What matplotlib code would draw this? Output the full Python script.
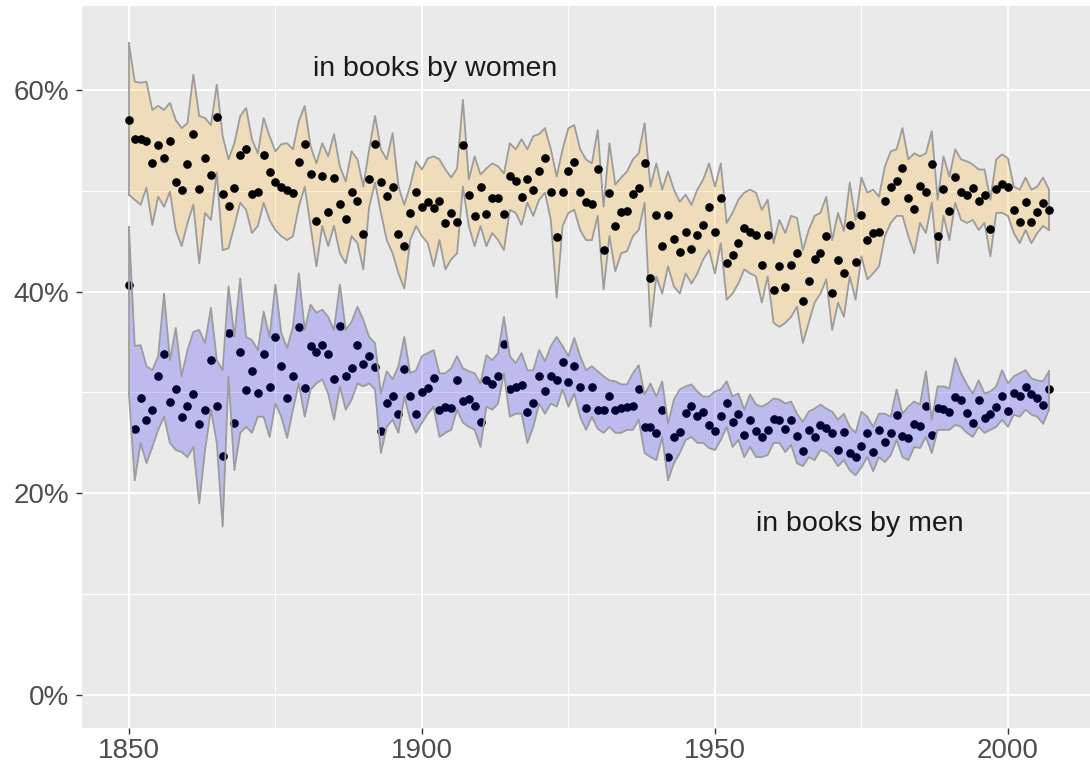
import numpy as np
import matplotlib
matplotlib.use("Agg")
import matplotlib.pyplot as plt

years = list(range(1850, 2008))

women = [57.0, 55.1, 55.1, 54.9, 52.7, 54.5, 53.2, 54.9, 50.9, 50.1,
         52.6, 55.6, 50.2, 53.2, 51.6, 57.3, 49.7, 48.5, 50.3, 53.5,
         54.1, 49.7, 49.9, 53.5, 51.8, 50.9, 50.4, 50.1, 49.8, 52.8,
         54.6, 51.7, 47.0, 51.5, 47.9, 51.3, 48.7, 47.2, 49.9, 49.0,
         45.7, 51.2, 54.6, 50.9, 49.5, 50.4, 45.7, 44.5, 47.8, 49.9,
         48.4, 48.9, 48.3, 49.0, 46.8, 47.8, 46.9, 54.5, 49.6, 47.5,
         50.4, 47.7, 49.3, 49.3, 47.7, 51.5, 51.0, 49.4, 51.2, 50.1,
         51.9, 53.2, 49.9, 45.4, 49.9, 51.9, 52.8, 49.9, 48.9, 48.7,
         52.1, 44.1, 49.8, 46.5, 47.9, 48.0, 49.7, 50.3, 52.7, 41.3,
         47.6, 44.5, 47.6, 45.2, 43.9, 45.9, 44.2, 45.6, 46.6, 48.4,
         45.9, 49.3, 42.8, 43.6, 44.8, 46.3, 45.9, 45.6, 42.6, 45.6,
         40.2, 42.5, 40.5, 42.6, 43.8, 39.1, 41.0, 43.2, 43.8, 45.5,
         39.9, 43.1, 41.8, 46.6, 42.9, 47.6, 45.1, 45.8, 45.9, 49.0,
         50.4, 51.0, 52.2, 49.3, 48.2, 50.5, 49.9, 52.6, 45.5, 50.2,
         48.0, 51.4, 49.9, 49.6, 50.3, 49.0, 49.6, 46.2, 50.2, 50.7,
         50.4, 48.1, 46.9, 48.9, 46.9, 47.9, 48.8, 48.1]

women_hi = [64.6, 60.8, 60.7, 60.8, 58.0, 58.4, 58.0, 58.7, 57.0, 56.2,
            56.7, 61.5, 57.4, 57.2, 56.5, 60.5, 55.4, 53.1, 54.7, 57.4,
            58.2, 55.1, 53.7, 57.2, 55.4, 53.9, 54.6, 54.7, 54.1, 56.9,
            58.4, 54.4, 52.7, 54.7, 53.4, 55.6, 52.4, 50.9, 53.9, 53.1,
            50.4, 54.1, 57.4, 54.1, 53.1, 55.7, 50.4, 48.6, 50.5, 52.9,
            52.1, 53.2, 53.4, 53.1, 52.1, 51.3, 52.2, 59.0, 51.1, 53.4,
            51.6, 52.2, 52.7, 52.4, 51.7, 54.7, 54.1, 55.1, 54.1, 55.4,
            55.6, 56.2, 54.1, 51.4, 54.1, 56.2, 56.5, 54.1, 53.1, 52.7,
            56.0, 48.4, 54.7, 50.6, 51.3, 51.9, 53.1, 53.7, 56.7, 50.4,
            52.7, 50.1, 51.9, 50.1, 48.9, 49.6, 48.6, 50.1, 51.1, 52.7,
            50.4, 52.7, 46.8, 47.8, 49.1, 49.8, 50.1, 49.8, 48.1, 49.1,
            44.8, 47.1, 45.8, 47.5, 47.3, 44.1, 46.1, 47.5, 47.8, 49.4,
            45.1, 47.8, 46.0, 50.8, 47.1, 51.3, 49.8, 50.1, 49.4, 52.4,
            53.9, 54.1, 56.2, 53.1, 53.7, 53.4, 53.7, 55.9, 49.1, 53.4,
            51.4, 54.1, 53.1, 52.9, 52.6, 52.1, 52.1, 49.1, 53.1, 53.6,
            53.2, 50.4, 50.1, 51.3, 50.1, 50.4, 51.3, 50.1]

women_lo = [49.6, 49.1, 48.6, 50.3, 46.6, 49.4, 48.4, 49.9, 46.1, 44.5,
            46.8, 48.6, 42.8, 47.8, 47.1, 51.8, 44.1, 44.3, 46.5, 48.8,
            48.1, 45.8, 46.5, 48.8, 47.1, 46.1, 45.5, 45.1, 45.5, 48.4,
            50.4, 46.5, 42.5, 46.5, 44.5, 46.5, 43.8, 42.8, 45.5, 44.8,
            42.2, 48.4, 50.8, 47.8, 45.1, 43.8, 41.8, 40.3, 45.1, 46.5,
            45.5, 44.8, 42.5, 45.1, 42.2, 43.2, 43.8, 50.4, 46.5, 44.5,
            46.5, 44.5, 45.8, 45.1, 44.1, 48.1, 47.8, 46.6, 48.8, 47.5,
            49.1, 49.8, 47.1, 39.4, 46.5, 47.8, 48.1, 46.1, 45.1, 45.1,
            47.5, 40.2, 45.5, 42.0, 43.8, 44.0, 45.5, 46.1, 48.8, 36.5,
            41.5, 39.8, 42.5, 40.5, 39.8, 41.8, 40.8, 41.8, 43.2, 44.1,
            41.8, 44.8, 39.2, 39.8, 40.8, 42.2, 41.8, 41.5, 38.9, 41.5,
            36.9, 36.5, 36.9, 37.5, 38.5, 34.9, 36.9, 38.9, 39.8, 41.2,
            36.2, 38.9, 37.5, 41.5, 39.2, 43.5, 41.2, 41.8, 42.5, 45.5,
            46.8, 47.5, 47.5, 45.5, 43.8, 46.8, 45.8, 48.8, 42.8, 47.5,
            45.1, 48.8, 47.1, 46.8, 47.1, 46.1, 46.8, 43.5, 47.8, 47.8,
            47.5, 45.8, 44.8, 46.1, 44.8, 45.8, 46.5, 46.1]

men = [40.7, 26.4, 29.5, 27.3, 28.3, 31.6, 33.8, 29.1, 30.3, 27.6,
       28.7, 29.8, 26.9, 28.3, 33.2, 28.7, 23.7, 35.9, 27.0, 34.0,
       30.2, 32.1, 29.9, 33.8, 30.5, 35.5, 32.6, 29.5, 31.6, 36.5,
       30.4, 34.6, 34.0, 34.7, 33.8, 31.3, 36.6, 31.6, 32.4, 34.7,
       32.8, 33.6, 32.5, 26.2, 29.0, 29.7, 27.9, 32.3, 29.7, 27.9,
       30.0, 30.4, 31.4, 28.3, 28.6, 28.5, 31.2, 29.2, 29.4, 28.7,
       27.1, 31.2, 30.8, 31.6, 34.8, 30.3, 30.5, 30.7, 28.1, 29.0,
       31.6, 30.1, 31.6, 31.2, 33.0, 31.0, 32.6, 30.5, 28.5, 30.5,
       28.3, 28.3, 29.7, 28.3, 28.5, 28.6, 28.7, 30.3, 26.6, 26.6,
       26.0, 28.3, 23.6, 25.6, 26.1, 28.0, 28.7, 27.7, 28.1, 26.8,
       26.2, 27.7, 29.0, 27.1, 27.9, 25.8, 27.3, 26.2, 25.6, 26.3,
       27.4, 27.3, 26.4, 27.3, 25.7, 24.2, 26.3, 25.6, 26.8, 26.5,
       26.0, 24.3, 26.1, 24.0, 23.6, 24.7, 26.0, 24.1, 26.3, 25.1,
       26.0, 27.8, 25.7, 25.5, 26.9, 26.7, 28.7, 25.8, 28.5, 28.4,
       28.1, 29.6, 29.3, 28.0, 27.0, 29.3, 27.5, 27.9, 28.6, 29.7,
       28.2, 29.9, 29.7, 30.5, 29.8, 29.5, 28.8, 30.3]

men_hi = [46.4, 34.6, 34.7, 32.6, 32.2, 33.6, 39.8, 33.2, 36.4, 31.6,
          34.2, 36.0, 36.2, 34.9, 38.4, 33.2, 32.2, 40.5, 35.5, 41.3,
          35.5, 35.2, 34.2, 38.0, 35.5, 40.7, 35.9, 34.4, 36.5, 41.8,
          36.2, 38.7, 37.9, 38.2, 37.5, 36.2, 40.7, 36.2, 37.0, 38.5,
          37.2, 35.5, 34.9, 29.9, 32.1, 31.3, 32.6, 35.5, 31.9, 32.2,
          33.6, 33.9, 34.2, 31.9, 31.9, 32.4, 33.6, 32.4, 32.1, 31.9,
          30.9, 33.7, 33.2, 33.9, 37.5, 33.6, 32.9, 33.9, 32.2, 32.2,
          34.2, 33.1, 34.6, 35.5, 34.6, 33.6, 35.4, 33.6, 32.2, 32.6,
          32.1, 31.6, 31.2, 31.1, 30.8, 30.8, 31.9, 32.7, 29.8, 30.9,
          29.6, 31.1, 26.9, 29.3, 30.3, 30.6, 30.8, 30.1, 29.6, 29.6,
          30.1, 30.3, 31.1, 29.6, 29.9, 28.3, 29.8, 28.8, 28.6, 28.9,
          29.4, 29.3, 28.9, 29.1, 27.9, 27.1, 28.1, 28.4, 28.8, 28.4,
          28.1, 27.3, 27.9, 26.6, 26.0, 28.1, 27.6, 26.6, 27.9, 27.9,
          27.6, 30.3, 27.9, 28.6, 29.1, 28.8, 32.1, 27.3, 30.6, 30.6,
          30.4, 33.4, 31.9, 30.8, 29.9, 31.2, 29.9, 30.1, 30.6, 32.2,
          30.9, 31.6, 31.9, 32.2, 31.4, 31.2, 31.1, 32.1]

men_lo = [29.9, 21.3, 25.0, 23.0, 24.6, 26.3, 27.6, 25.0, 24.3, 24.1,
          23.6, 24.6, 19.0, 24.3, 28.3, 25.0, 16.7, 31.6, 22.3, 26.0,
          26.6, 26.0, 27.6, 27.6, 25.6, 28.9, 27.6, 25.5, 28.3, 30.9,
          27.6, 30.3, 30.9, 31.3, 29.9, 27.3, 30.6, 28.3, 29.3, 30.9,
          30.6, 30.9, 30.3, 24.0, 26.6, 27.3, 26.0, 29.6, 27.3, 26.0,
          27.0, 27.9, 28.6, 25.6, 26.0, 26.3, 28.3, 27.0, 26.6, 26.3,
          24.6, 28.6, 28.3, 28.9, 31.9, 27.6, 27.9, 27.9, 25.0, 26.6,
          28.9, 27.9, 28.9, 28.6, 30.3, 28.6, 29.9, 27.6, 26.3, 27.6,
          26.4, 26.0, 26.6, 26.0, 26.0, 26.3, 26.3, 27.3, 24.0, 23.6,
          23.3, 25.6, 21.3, 23.0, 24.0, 25.3, 25.6, 25.0, 25.0, 24.5,
          24.3, 25.3, 26.6, 24.6, 25.3, 23.6, 24.6, 23.6, 23.6, 23.8,
          25.0, 25.0, 24.1, 24.8, 23.0, 22.7, 23.6, 23.3, 24.3, 24.1,
          23.6, 22.7, 23.3, 22.3, 21.8, 22.6, 23.6, 22.2, 23.6, 23.1,
          23.8, 25.3, 23.6, 23.3, 24.6, 24.5, 25.6, 24.0, 26.3, 26.3,
          26.3, 26.8, 26.6, 26.0, 25.6, 26.6, 26.0, 26.3, 26.6, 27.3,
          26.6, 27.8, 27.6, 28.3, 27.8, 27.6, 26.9, 28.3]

x_ticks = [1850, 1900, 1950, 2000]
x_minor = [1875, 1925, 1975]
y_ticks = [0, 20, 40, 60]
y_minor = [10, 30, 50]
y_tick_labels = ["0%", "20%", "40%", "60%"]
label_women = "in books by women"
label_men = "in books by men"

plt.rcParams['font.family'] = ['Liberation Sans', 'DejaVu Sans']

fig = plt.figure(figsize=(10.9, 7.68), dpi=100)
ax = fig.add_axes([82 / 1090, 1 - 728 / 768, 1008 / 1090, 722 / 768])
ax.set_facecolor('#EAEAEA')
for s in ax.spines.values():
    s.set_visible(False)

ax.set_xlim(1842.0, 2014.0)
ax.set_ylim(-3.25, 68.3)

for v in y_minor:
    ax.axhline(v, color='white', lw=0.7, zorder=0)
for v in x_minor:
    ax.axvline(v, color='white', lw=0.7, zorder=0)
for v in y_ticks:
    ax.axhline(v, color='white', lw=1.4, zorder=0)
for v in x_ticks:
    ax.axvline(v, color='white', lw=1.4, zorder=0)

yrs = np.array(years)
edge = '#9C9C9C'

# women ribbon below the points
ax.fill_between(yrs, women_lo, women_hi, color='orange', alpha=0.2, lw=0, zorder=1)
for arr in (women_lo, women_hi):
    ax.plot(yrs, arr, color=edge, lw=1.3, zorder=1.5)
ax.plot([yrs[0], yrs[0]], [women_lo[0], women_hi[0]], color=edge, lw=1.3, zorder=1.5)
ax.plot([yrs[-1], yrs[-1]], [women_lo[-1], women_hi[-1]], color=edge, lw=1.3, zorder=1.5)

ax.plot(yrs, women, 'o', color='black', ms=5.2, zorder=2)
ax.plot(yrs, men, 'o', color='black', ms=5.2, zorder=2)

# men ribbon above the points
ax.fill_between(yrs, men_lo, men_hi, color='blue', alpha=0.2, lw=0, zorder=3)
for arr in (men_lo, men_hi):
    ax.plot(yrs, arr, color=edge, lw=1.3, zorder=4)
ax.plot([yrs[0], yrs[0]], [men_lo[0], men_hi[0]], color=edge, lw=1.3, zorder=4)
ax.plot([yrs[-1], yrs[-1]], [men_lo[-1], men_hi[-1]], color=edge, lw=1.3, zorder=4)

ax.text(1902.3, 61.4, label_women, ha='center', va='baseline', fontsize=20.5,
        color='#1A1A1A', zorder=5)
ax.text(1974.7, 16.3, label_men, ha='center', va='baseline', fontsize=20.5,
        color='#1A1A1A', zorder=5)

ax.set_xticks(x_ticks)
ax.set_xticklabels([str(v) for v in x_ticks])
ax.set_yticks(y_ticks)
ax.set_yticklabels(y_tick_labels)
ax.tick_params(axis='both', which='major', length=4.5, width=1.0, color='#333333',
               labelsize=20, labelcolor='#4D4D4D')
ax.tick_params(axis='x', pad=3)
ax.tick_params(axis='y', pad=5)

fig.savefig('out.png', dpi=100)
